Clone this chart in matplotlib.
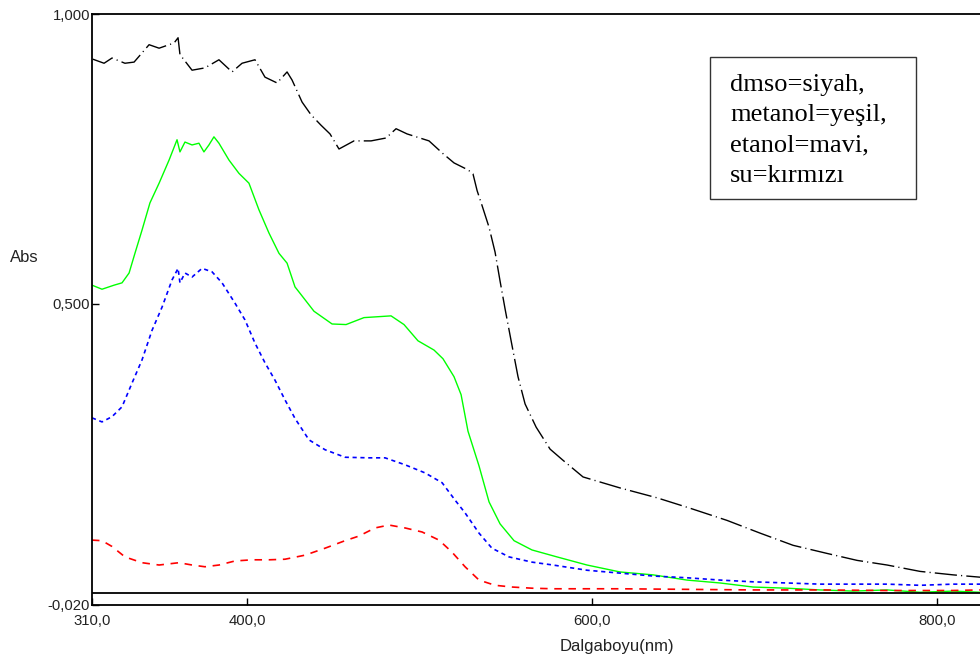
import matplotlib
matplotlib.use("Agg")
import matplotlib.pyplot as plt
from matplotlib.patches import Rectangle

# dalga boyu (nm) / absorbans okumalari
dmso_nm = [310.5, 317.0, 321.6, 329.1, 334.4, 343.1, 348.9, 357.6, 359.9, 361.0,
           368.0, 375.5, 383.6, 391.2, 397.0, 404.5, 410.3, 417.3, 423.1, 426.0,
           431.8, 437.0, 442.8, 448.0, 453.2, 461.9, 471.8, 480.5, 486.3, 492.7,
           505.4, 513.5, 519.9, 528.0, 530.9, 533.3, 536.2, 540.2, 543.7, 546.6,
           549.5, 553.0, 557.0, 561.1, 567.5, 575.6, 583.0, 594.7, 616.2, 637.6,
           656.8, 678.2, 697.4, 716.5, 736.2, 753.6, 771.0, 790.1, 809.3, 824.9]
dmso_abs = [0.922, 0.915, 0.924, 0.915, 0.917, 0.947, 0.941, 0.950, 0.959, 0.930,
            0.903, 0.907, 0.921, 0.900, 0.915, 0.921, 0.891, 0.881, 0.900, 0.886,
            0.848, 0.826, 0.808, 0.793, 0.767, 0.781, 0.781, 0.786, 0.802, 0.793,
            0.781, 0.759, 0.743, 0.731, 0.724, 0.695, 0.669, 0.632, 0.589, 0.539,
            0.491, 0.436, 0.374, 0.327, 0.287, 0.249, 0.230, 0.201, 0.182, 0.165,
            0.147, 0.126, 0.104, 0.083, 0.069, 0.057, 0.049, 0.038, 0.032, 0.028]

metanol_nm = [310.0, 315.8, 322.8, 327.4, 331.5, 334.9, 339.0, 343.6, 348.9, 354.7,
              359.3, 361.0, 363.9, 368.0, 372.0, 374.9, 377.8, 380.7, 383.6, 389.4,
              395.2, 401.0, 406.8, 412.6, 418.4, 423.1, 427.7, 430.6, 438.7, 449.2,
              457.3, 467.7, 483.4, 490.9, 499.0, 508.3, 513.5, 519.9, 524.0, 528.0,
              534.4, 540.2, 546.6, 554.7, 565.1, 579.6, 597.0, 616.2, 635.3, 655.0,
              674.2, 693.3, 713.0, 732.1, 751.3, 771.0, 790.1, 809.3, 824.9]
metanol_abs = [0.532, 0.525, 0.532, 0.536, 0.553, 0.587, 0.627, 0.674, 0.708, 0.748,
               0.783, 0.762, 0.779, 0.774, 0.777, 0.762, 0.774, 0.788, 0.777, 0.748,
               0.725, 0.708, 0.662, 0.622, 0.587, 0.570, 0.529, 0.518, 0.487, 0.465,
               0.464, 0.476, 0.479, 0.464, 0.436, 0.420, 0.405, 0.374, 0.343, 0.280,
               0.220, 0.158, 0.120, 0.091, 0.075, 0.063, 0.049, 0.037, 0.032, 0.023,
               0.018, 0.011, 0.009, 0.006, 0.004, 0.006, 0.002, 0.004, 0.002]

etanol_nm = [310.0, 315.8, 321.6, 327.4, 333.2, 339.0, 344.8, 350.6, 356.4, 359.9,
             361.0, 363.9, 368.0, 373.8, 379.6, 385.4, 392.9, 398.7, 404.5, 410.3,
             416.1, 421.9, 427.7, 435.8, 445.1, 456.7, 470.6, 479.9, 491.5, 503.1,
             513.0, 520.5, 526.3, 534.4, 541.9, 551.8, 565.1, 577.3, 597.0, 616.2,
             635.3, 655.0, 674.2, 693.3, 713.0, 732.1, 751.3, 771.0, 790.1, 809.3,
             824.9]
etanol_abs = [0.303, 0.296, 0.305, 0.322, 0.363, 0.403, 0.454, 0.494, 0.541, 0.561,
              0.536, 0.553, 0.546, 0.561, 0.555, 0.536, 0.501, 0.472, 0.432, 0.398,
              0.368, 0.334, 0.302, 0.265, 0.248, 0.235, 0.234, 0.234, 0.222, 0.208,
              0.191, 0.161, 0.139, 0.104, 0.078, 0.063, 0.054, 0.049, 0.040, 0.035,
              0.030, 0.027, 0.023, 0.020, 0.018, 0.016, 0.016, 0.016, 0.014, 0.016,
              0.016]

su_nm = [310.0, 315.8, 321.6, 329.1, 339.0, 348.9, 360.4, 368.0, 375.5, 383.6,
         392.9, 402.8, 412.6, 421.9, 433.5, 445.1, 456.7, 464.8, 474.1, 482.2,
         491.5, 501.4, 511.2, 518.8, 526.3, 534.4, 543.7, 553.6, 565.1, 577.3,
         616.0, 655.0, 693.0, 732.0, 771.0, 809.0, 824.9]
su_abs = [0.092, 0.091, 0.081, 0.063, 0.053, 0.049, 0.053, 0.049, 0.046, 0.049,
          0.056, 0.058, 0.058, 0.059, 0.066, 0.078, 0.091, 0.099, 0.113, 0.118,
          0.113, 0.106, 0.092, 0.071, 0.046, 0.023, 0.014, 0.011, 0.009, 0.008,
          0.008, 0.007, 0.006, 0.006, 0.005, 0.005, 0.006]

x_ticks = [310, 400, 600, 800]
x_tick_labels = ["310,0", "400,0", "600,0", "800,0"]
y_ticks = [-0.02, 0.5, 1.0]
y_tick_labels = ["-0,020", "0,500", "1,000"]

legend_lines = ["dmso=siyah,", "metanol=yeşil,", "etanol=mavi,", "su=kırmızı"]

W, H = 980, 666


def fx(px):
    return px / W


def fy(py):
    return 1 - py / H


def main():
    fig = plt.figure(figsize=(9.8, 6.66), dpi=100)
    ax = fig.add_axes([fx(92), fy(605), fx(980 - 92) + 0.002, (605 - 14) / H])

    ax.plot(dmso_nm, dmso_abs, color="black", lw=1.0, dashes=(16, 3, 0.8, 3))
    ax.plot(metanol_nm, metanol_abs, color="#00ff00", lw=1.0)
    ax.plot(etanol_nm, etanol_abs, color="#0000ff", lw=1.2, dashes=(2.5, 2.2))
    ax.plot(su_nm, su_abs, color="#ff0000", lw=1.2, dashes=(4.5, 4))
    ax.axhline(0, color="black", lw=1.3)

    ax.set_xlim(310, 826)
    ax.set_ylim(-0.02, 1.0)
    ax.set_xticks(x_ticks)
    ax.set_xticklabels(x_tick_labels)
    ax.set_yticks(y_ticks)
    ax.set_yticklabels(y_tick_labels)
    ax.tick_params(direction="in", length=5, width=1, labelsize=10.7,
                   colors="black")
    ax.tick_params(axis="x", pad=6.5)
    ax.tick_params(axis="y", pad=1.5)
    for lab in ax.get_xticklabels() + ax.get_yticklabels():
        lab.set_fontfamily("Liberation Sans")
        lab.set_color("#222222")

    ax.spines["right"].set_visible(False)
    for s in ["left", "bottom", "top"]:
        ax.spines[s].set_linewidth(1.3)

    fig.text(fx(10), fy(257), "Abs", ha="left", va="center", fontsize=12,
             family="Liberation Sans", color="#222222")
    fig.text(fx(617), fy(647), "Dalgaboyu(nm)", ha="center", va="center",
             fontsize=12, family="Liberation Sans", color="#222222")

    # aciklama kutusu
    box = Rectangle((fx(710), fy(199)), fx(916 - 710), (199 - 57) / H,
                    transform=fig.transFigure, facecolor="white",
                    edgecolor="#333333", lw=1.0, zorder=5)
    fig.patches.append(box)
    for i, line in enumerate(legend_lines):
        fig.text(fx(730), fy(91.5 + 30 * i), line, ha="left", va="baseline",
                 fontsize=19, family="Liberation Serif", zorder=6)

    fig.savefig("out.png", dpi=100)


if __name__ == "__main__":
    main()
